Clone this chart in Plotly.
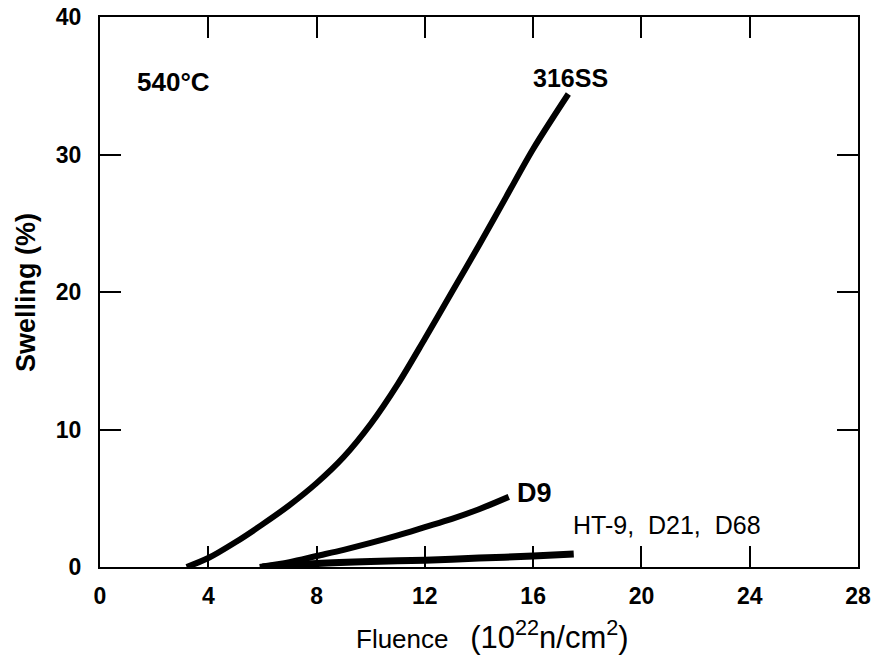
import plotly.graph_objects as go

# Data
ss316_x = [3.2, 4, 5, 6, 7, 8, 9, 10, 11, 12, 13, 14, 15, 16, 17.3]
ss316_y = [0, 0.65, 1.8, 3.1, 4.5, 6.1, 8.0, 10.4, 13.3, 16.6, 20.0, 23.4, 26.9, 30.4, 34.4]

d9_x = [5.9, 7, 8, 9, 10, 11, 12, 13, 14, 15.1]
d9_y = [0, 0.35, 0.8, 1.25, 1.75, 2.3, 2.9, 3.5, 4.2, 5.1]

ht9_x = [6, 8, 10, 12, 14, 16, 17.5]
ht9_y = [0, 0.25, 0.4, 0.5, 0.65, 0.8, 0.95]

x_ticks = [0, 4, 8, 12, 16, 20, 24, 28]
y_ticks = [0, 10, 20, 30, 40]

REG = "Liberation Sans, Arial, Helvetica, sans-serif"

W, H = 874, 657
PL, PR, PT, PB = 100, 858, 17, 567   # plot area in page pixels
L, T, R, B = PL, PT, W - PR, H - PB

fig = go.Figure()
for xs, ys, w in [(ss316_x, ss316_y, 6), (d9_x, d9_y, 6), (ht9_x, ht9_y, 7)]:
    fig.add_trace(go.Scatter(x=xs, y=ys, mode="lines",
                             line=dict(color="black", width=w, shape="spline", smoothing=0.9),
                             showlegend=False, hoverinfo="skip"))

fig.update_layout(
    width=W, height=H,
    margin=dict(l=L, r=R, t=T, b=B),
    paper_bgcolor="white", plot_bgcolor="white",
    font=dict(family=REG, color="black"),
)
axis_common = dict(showgrid=False, zeroline=False, showline=True, linecolor="black", linewidth=2,
                   mirror="allticks", ticks="inside", ticklen=21, tickwidth=1.5, tickcolor="black",
                   automargin=False,
                   tickfont=dict(size=23, family=REG, weight="bold", color="black"))
fig.update_xaxes(range=[0, 28], tickvals=x_ticks, ticktext=[str(v) for v in x_ticks],
                 ticklabelstandoff=7, **axis_common)
fig.update_yaxes(range=[0, 40], tickvals=y_ticks, ticktext=[str(v) for v in y_ticks],
                 ticklabelstandoff=12, **axis_common)

anns = [
    dict(x=173, y=82, text="<b>540°C</b>", size=26),
    dict(x=570, y=78, text="<b>316SS</b>", size=25),
    dict(x=534, y=493, text="<b>D9</b>", size=27),
    dict(x=667, y=525, text="HT-9,\u00a0 D21,\u00a0 D68", size=25),
    dict(x=26, y=293, text="<b>Swelling (%)</b>", size=27, angle=-90),
    dict(x=492, y=635, text="Fluence\u00a0\u00a0 <span style='font-size:31px'>(10<sup>22</sup>n/cm<sup>2</sup>)</span>", size=26),
]
pw, ph = PR - PL, PB - PT
for a in anns:
    fig.add_annotation(x=(a["x"] - PL) / pw, y=1 - (a["y"] - PT) / ph, xref="paper", yref="paper",
                       text=a["text"], showarrow=False, xanchor="center", yanchor="middle",
                       textangle=a.get("angle", 0), font=dict(size=a["size"], family=REG, color="black"))

fig.write_html("out.html", config={"displayModeBar": False},
               post_script="document.body.style.margin='0';document.body.style.overflow='hidden';")
